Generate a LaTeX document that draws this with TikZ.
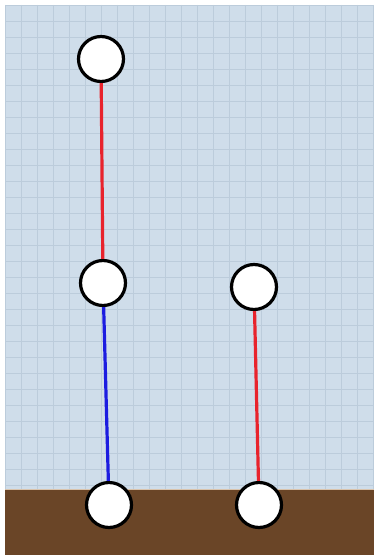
\documentclass[tikz,border=0pt]{standalone}
\definecolor{skyc}{HTML}{CFDDEA}
\definecolor{gridc}{HTML}{BCCCDB}
\definecolor{groundc}{HTML}{6A4527}
\definecolor{edgec}{HTML}{D9C3AC}
\definecolor{redc}{HTML}{E8232C}
\definecolor{bluec}{HTML}{1C1CE0}
\tikzset{
  joint/.style={circle, draw=black, line width=3.2pt, fill=white, minimum size=45pt, inner sep=0pt},
  redbar/.style={redc, line width=3.2pt},
  bluebar/.style={bluec, line width=3.2pt}
}
\begin{document}
\begin{tikzpicture}[x=1pt,y=-1pt]
\useasboundingbox (0,0) rectangle (376,556);
\fill[white] (0,0) rectangle (376,556);
\fill[skyc] (5,5) rectangle (374,490);
\begin{scope}
\clip (5,5) rectangle (374,490);
\foreach \i in {0,...,24} {
  \draw[gridc, line width=0.8pt] ({5+16*\i},5) -- ({5+16*\i},490);
}
\foreach \j in {0,...,31} {
  \draw[gridc, line width=0.8pt] (5,{5+16*\j}) -- (374,{5+16*\j});
}
\end{scope}
\fill[groundc] (5,489) rectangle (374,555);
\draw[edgec, line width=1pt] (5,489) -- (374,489);
\node[joint] (t) at (101,59) {};
\node[joint] (m) at (103,283) {};
\node[joint] (r) at (254,287) {};
\node[joint] (bl) at (109,505) {};
\node[joint] (br) at (259,505) {};
\draw[redbar] (t) -- (m);
\draw[bluebar] (m) -- (bl);
\draw[redbar] (r) -- (br);
\end{tikzpicture}
\end{document}
